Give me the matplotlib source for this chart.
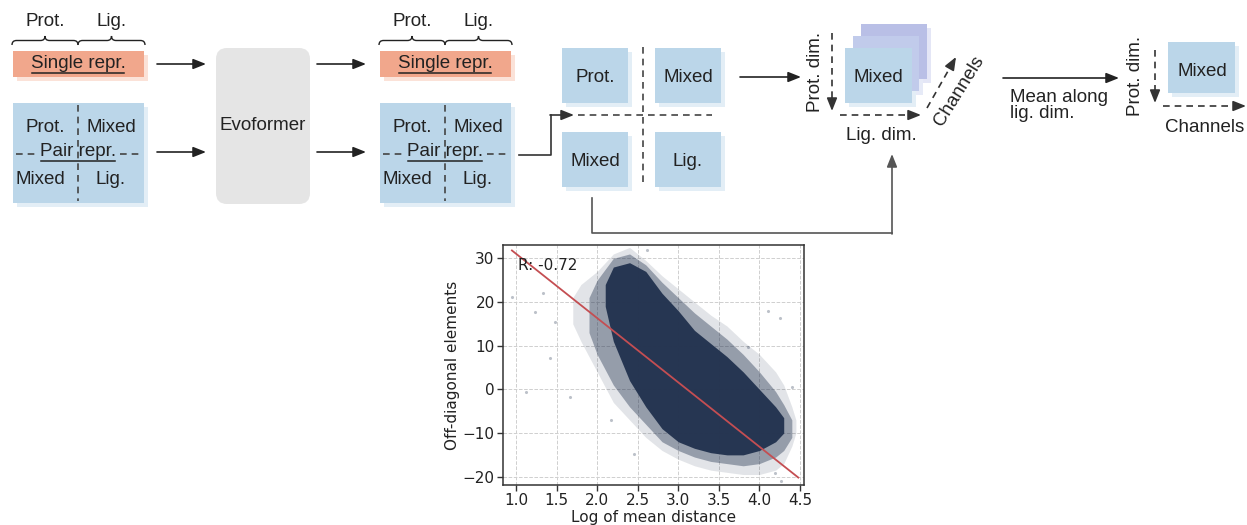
import matplotlib
matplotlib.use('Agg')
import numpy as np
import matplotlib.pyplot as plt
from matplotlib.patches import Rectangle, FancyBboxPatch, PathPatch
from matplotlib.path import Path

# ---- scatter panel: outline of the point cloud ----
halo_x = [1.7, 1.8, 2.0, 2.2, 2.4, 2.6, 2.8, 3.0, 3.2, 3.4, 3.6, 3.8, 4.0, 4.2, 4.3, 4.4, 4.45]
halo_lo = [15, 11, 4, -3, -7, -11, -14, -16, -17.5, -18.5, -19, -19.5, -19.5, -18.5, -17, -13, -10]
halo_hi = [21, 24, 27, 31, 32.5, 29.5, 26, 23, 20, 17, 14.5, 11, 8, 4, 1, -4, -7]

mid_x = [1.9, 2.0, 2.2, 2.4, 2.6, 2.8, 3.0, 3.2, 3.4, 3.6, 3.8, 4.0, 4.2, 4.3, 4.4]
mid_lo = [13, 8, 1, -4, -8, -12, -14, -15.5, -16.5, -17, -17.5, -17, -15.5, -14, -11]
mid_hi = [21, 25, 30, 31, 28.5, 24.5, 21, 17.5, 14.5, 11.5, 8, 4, -0.5, -3.5, -7]

core_x = [2.1, 2.2, 2.4, 2.6, 2.8, 3.0, 3.2, 3.4, 3.6, 3.8, 4.0, 4.2, 4.3]
core_lo = [19, 11, 2, -4, -9, -12, -13.5, -14.5, -15, -15, -14, -12, -10]
core_hi = [24, 28, 29, 27, 22, 18, 13.5, 10.5, 7.5, 4, 0, -4, -6.5]

stray_x = [0.95, 1.12, 1.23, 1.33, 1.42, 1.48, 1.67, 2.17, 2.46, 2.62, 3.86, 4.11, 4.25, 4.4, 4.19, 4.27]
stray_y = [21.2, -0.5, 17.8, 22, 7.1, 15.5, -1.7, -7, -14.7, 31.9, 9.8, 18, 16.3, 0.6, -19.2, -21]

fit_slope = -14.73
fit_intercept = 45.79
fit_x = [0.95, 4.48]
r_value = -0.72

# ---- diagram labels ----
brace_labels = ['Prot.', 'Lig.']
quad_labels = ['Prot.', 'Mixed', 'Mixed', 'Lig.']

FONT = 'Liberation Sans'
TXT = '#222222'
BLUE, BLUE_SH = '#bbd6e9', '#e3eef6'
SALMON, SALMON_SH = '#f1a78c', '#fbe2d8'

fig = plt.figure(figsize=(12.47, 5.25), dpi=100)
diag = fig.add_axes([0, 0, 1, 1])
diag.set_xlim(0, 1247)
diag.set_ylim(525, 0)
diag.axis('off')


def label(x, y, s, size=13.5, **kw):
    kw.setdefault('ha', 'center')
    kw.setdefault('va', 'center')
    return diag.text(x, y, s, fontsize=size, family=FONT, color=TXT, zorder=5, **kw)


def box(x, y, w, h, face=BLUE, shadow=BLUE_SH, z=1):
    diag.add_patch(Rectangle((x + 4, y + 4), w, h, fc=shadow, ec='none', zorder=z))
    diag.add_patch(Rectangle((x, y), w, h, fc=face, ec='none', zorder=z + 0.1))


def arrow(p0, p1, color='#222222'):
    diag.annotate('', xy=p1, xytext=p0, zorder=4,
                  arrowprops=dict(arrowstyle='-|>,head_length=0.55,head_width=0.22',
                                  color=color, lw=1.2, shrinkA=0, shrinkB=0,
                                  mutation_scale=14))


def dashed(p0, p1, color='#444444'):
    diag.plot([p0[0], p1[0]], [p0[1], p1[1]], color=color, lw=1.2,
              ls=(0, (4, 3)), zorder=4)


def dashed_arrow(p0, p1, color='#333333'):
    p0, p1 = np.array(p0, float), np.array(p1, float)
    u = (p1 - p0) / np.hypot(*(p1 - p0))
    dashed(p0, p1 - 6 * u, color)
    arrow(p1 - 9 * u, p1, color)


def brace(x0, x1, y, h=4.5):
    xm = (x0 + x1) / 2
    verts = [(x0, y), (x0, y - h), (x0 + h, y - h), (xm - h, y - h),
             (xm, y - h), (xm, y - 2 * h), (xm, y - h), (xm + h, y - h),
             (x1 - h, y - h), (x1, y - h), (x1, y)]
    codes = [Path.MOVETO, Path.CURVE3, Path.CURVE3, Path.LINETO,
             Path.CURVE3, Path.CURVE3, Path.CURVE3, Path.CURVE3,
             Path.LINETO, Path.CURVE3, Path.CURVE3]
    diag.add_patch(PathPatch(Path(verts, codes), fc='none', ec='#222222', lw=1.0))


underlined = []


def input_block(x0):
    # braces + single representation
    mid = x0 + 65
    brace(x0 - 1, mid, 45)
    brace(mid, x0 + 132, 45)
    label(x0 + 32, 22, brace_labels[0])
    label(x0 + 99, 22, brace_labels[1])
    box(x0, 51, 131, 26, SALMON, SALMON_SH)
    underlined.append(label(mid, 63, 'Single repr.'))
    # pair representation
    box(x0, 103, 131, 100)
    dashed((mid, 105), (mid, 201))
    dashed((x0 + 3, 154), (x0 + 26, 154))
    dashed((x0 + 107, 154), (x0 + 128, 154))
    underlined.append(label(mid, 151, 'Pair repr.'))
    label(x0 + 32, 128, quad_labels[0])
    label(x0 + 98, 128, quad_labels[1])
    label(x0 + 27, 179, quad_labels[2])
    label(x0 + 98, 179, quad_labels[3])


input_block(13)
input_block(380)

arrow((157, 64), (206, 64))
arrow((157, 152), (206, 152))
arrow((317, 64), (366, 64))
arrow((317, 152), (366, 152))

diag.add_patch(FancyBboxPatch((216, 48), 94, 156,
                              boxstyle='round,pad=0,rounding_size=11',
                              fc='#e5e5e5', ec='none', zorder=1))
label(263, 126, 'Evoformer')

# split into four blocks
diag.plot([519, 551, 551], [155, 155, 115], color='#333333', lw=1.2, zorder=4)
arrow((550, 115), (574, 115), '#333333')
dashed((578, 115), (712, 115))
dashed((643, 47), (643, 184))
quad_boxes = [(562, 48), (655, 48), (562, 132), (655, 132)]
for (bx, by), s in zip(quad_boxes, quad_labels):
    box(bx, by, 66, 55)
    label(bx + 33, by + 29, s)

arrow((740, 77), (801, 77))

# stacked channel boxes
box(861, 24, 66, 55, '#b9bfe6', '#e4e6f6')
box(853, 36, 66, 55, '#c1cbeb', '#e6eaf7')
box(845, 48, 67, 55)
label(878, 78, 'Mixed')
label(815, 72, 'Prot. dim.', rotation=90)
dashed_arrow((832, 33), (832, 111))
dashed_arrow((840, 115), (921, 115))
label(881, 135, 'Lig. dim.')
dashed_arrow((927, 108), (956, 57))
label(959, 91, 'Channels', rotation=58)

diag.plot([592, 592, 892], [198, 233, 233], color='#555555', lw=1.2, zorder=4)
arrow((892, 234), (892, 154), '#555555')

# mean along ligand dim
arrow((1003, 78), (1119, 78))
label(1010, 97, 'Mean along', ha='left')
label(1010, 114, 'lig. dim.', ha='left')
label(1135, 76, 'Prot. dim.', rotation=90)
dashed_arrow((1155, 50), (1155, 103))
box(1168, 42, 67, 51)
label(1202, 72, 'Mixed')
dashed_arrow((1163, 106), (1246, 106))
label(1205, 127, 'Channels')

# underline the representation titles
renderer = fig.canvas.get_renderer()
inv = diag.transData.inverted()
for t in underlined:
    bb = t.get_window_extent(renderer)
    (xa, ya), (xb, yb) = inv.transform([(bb.x0, bb.y0), (bb.x1, bb.y1)])
    diag.plot([xa + 1, xb - 1], [ya + 1.5, ya + 1.5], color=TXT, lw=1.1, zorder=5)

# ---- scatter panel ----
ax = fig.add_axes([503 / 1247, 40 / 525, 301 / 1247, 240 / 525])
ax.set_axisbelow(True)
ax.grid(True, color='#cfcfcf', ls='--', lw=0.7)
cloud = '#23334f'
ax.fill_between(halo_x, halo_lo, halo_hi, color=cloud, alpha=0.13, lw=0)
ax.fill_between(mid_x, mid_lo, mid_hi, color=cloud, alpha=0.4, lw=0)
ax.fill_between(core_x, core_lo, core_hi, color=cloud, alpha=0.97, lw=0)
ax.scatter(stray_x, stray_y, s=5, color=cloud, alpha=0.3, lw=0)
fx = np.array(fit_x)
ax.plot(fx, fit_slope * fx + fit_intercept, color='#c44e52', lw=1.3)
ax.text(1.02, 28.4, f'R: {r_value:.2f}', fontsize=11, va='center', color='#222222')

ax.set_xlim(0.84, 4.55)
ax.set_ylim(-21.9, 33.05)
ax.set_xticks(np.arange(1.0, 4.51, 0.5))
ax.set_xticklabels([f'{v:.1f}' for v in np.arange(1.0, 4.51, 0.5)])
ax.set_yticks([-20, -10, 0, 10, 20, 30])
ax.tick_params(labelsize=11, length=4, width=1, color='#333333', labelcolor='#222222', pad=2)
for sp in ax.spines.values():
    sp.set_color('#333333')
    sp.set_linewidth(1.1)
ax.set_xlabel('Log of mean distance', fontsize=11, color='#222222', labelpad=1)
ax.set_ylabel('Off-diagonal elements', fontsize=11, color='#222222', labelpad=2)

fig.savefig('out.png', dpi=100)
